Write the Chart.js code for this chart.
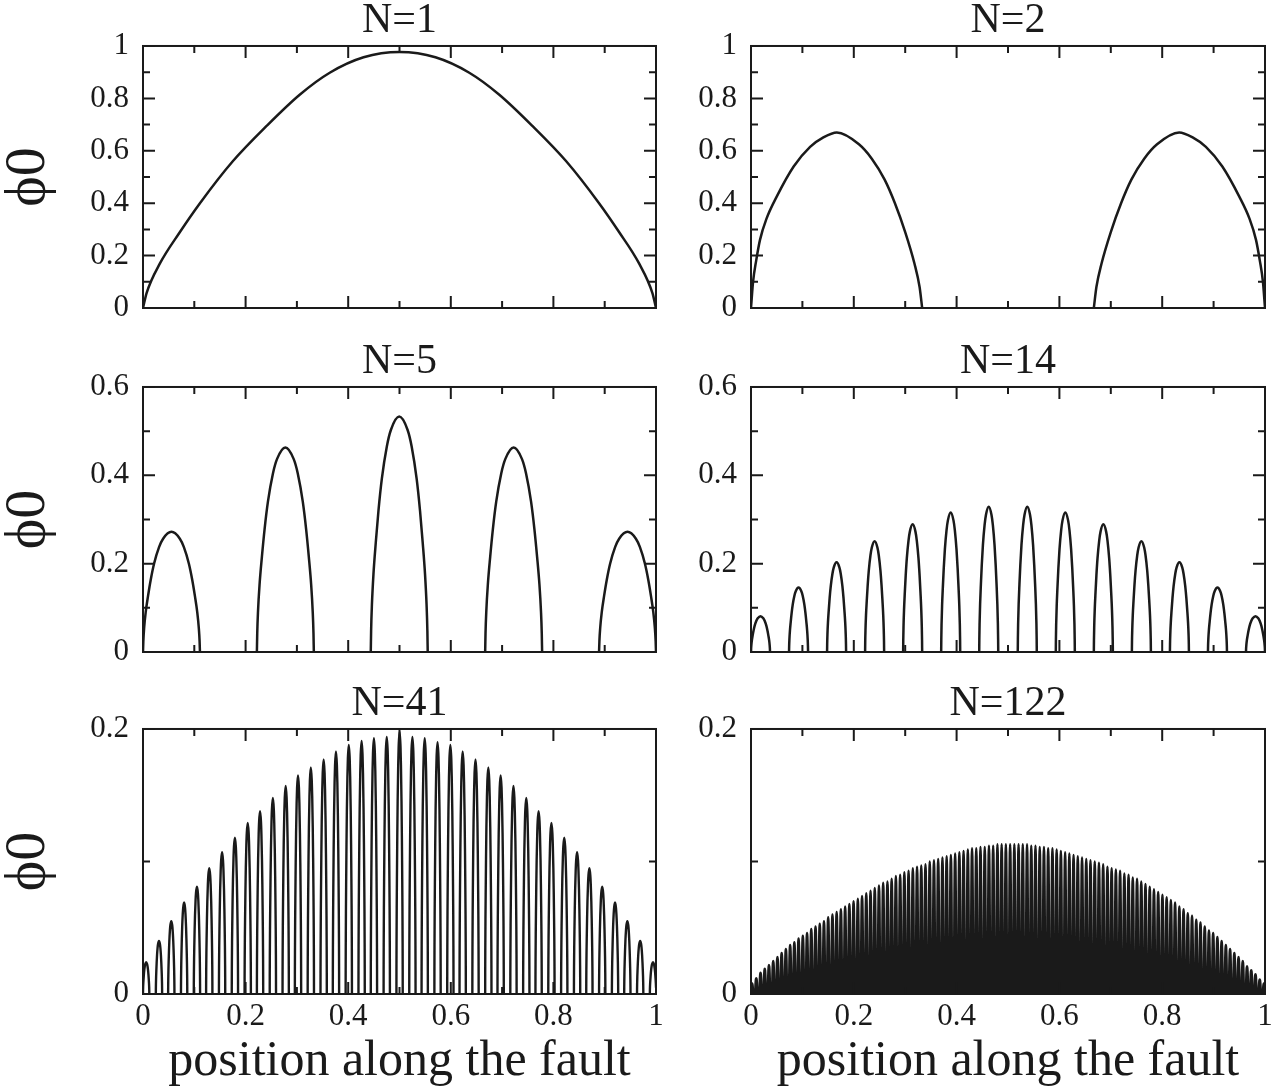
<!DOCTYPE html>
<html>
<head>
<meta charset="utf-8">
<script src="https://cdn.jsdelivr.net/npm/chart.js@4.4.1/dist/chart.umd.min.js"></script>
<style>
  html, body { margin: 0; padding: 0; background: #fff; overflow: hidden; }
  body { width: 1284px; height: 1088px; position: relative; }
</style>
</head>
<body>
<script>
// ---- axis ticks and labels ----
const X_MAJOR = [0, 0.2, 0.4, 0.6, 0.8, 1];
const X_LABELS = ["0", "0.2", "0.4", "0.6", "0.8", "1"];
const X_MINOR = [0.1, 0.3, 0.5, 0.7, 0.9];
const Y_MAJOR_TOP = [0, 0.2, 0.4, 0.6, 0.8, 1];
const Y_LABELS_TOP = ["0", "0.2", "0.4", "0.6", "0.8", "1"];
const Y_MINOR_TOP = [0.1, 0.3, 0.5, 0.7, 0.9];
const Y_MAJOR_MID = [0, 0.2, 0.4, 0.6];
const Y_LABELS_MID = ["0", "0.2", "0.4", "0.6"];
const Y_MINOR_MID = [0.1, 0.3, 0.5];
const Y_MAJOR_LOW = [0, 0.2];
const Y_LABELS_LOW = ["0", "0.2"];
const Y_MINOR_LOW = [0.1];
const X_TITLE = "position along the fault";
const Y_TITLE = "ϕ0";

// ---- N=1 and N=2 curves, read point by point ----
const N1_X = [0, 0.007, 0.033, 0.072, 0.111, 0.175, 0.241, 0.306, 0.364, 0.43, 0.5,
  0.57, 0.636, 0.694, 0.759, 0.825, 0.889, 0.928, 0.967, 0.993, 1];
const N1_Y = [0, 0.057, 0.17, 0.29, 0.40, 0.56, 0.695, 0.815, 0.898, 0.957, 0.977,
  0.957, 0.898, 0.815, 0.695, 0.56, 0.40, 0.29, 0.17, 0.057, 0];

const N2_X = [0, 0.004, 0.01, 0.0175, 0.03, 0.05, 0.083, 0.115, 0.14, 0.167, 0.21, 0.235, 0.26, 0.28, 0.30, 0.318, 0.328, 0.333,
  0.5,
  0.667, 0.672, 0.682, 0.70, 0.72, 0.74, 0.765, 0.79, 0.833, 0.86, 0.885, 0.917, 0.95, 0.97, 0.9825, 0.99, 0.996, 1];
const N2_Y = [0, 0.1, 0.18, 0.26, 0.34, 0.425, 0.54, 0.615, 0.65, 0.67, 0.625, 0.57, 0.49, 0.40, 0.29, 0.17, 0.08, 0,
  null,
  0, 0.08, 0.17, 0.29, 0.40, 0.49, 0.57, 0.625, 0.67, 0.65, 0.615, 0.54, 0.425, 0.34, 0.26, 0.18, 0.1, 0];

const ARCH_U = [0, 0.006, 0.02, 0.047, 0.088, 0.135, 0.194, 0.282, 0.353, 0.5,
  0.647, 0.718, 0.806, 0.865, 0.912, 0.953, 0.98, 0.994, 1];
const ARCH_V = [0, 0.09, 0.2, 0.33, 0.465, 0.6, 0.735, 0.873, 0.943, 1,
  0.943, 0.873, 0.735, 0.6, 0.465, 0.33, 0.2, 0.09, 0];

// ---- segmented panels: arch start, arch width, arch peak ----
const N5_START = [0, 0.222, 0.444, 0.667, 0.889];
const N5_WIDTH = 0.111;
const N5_PEAK = [0.272, 0.463, 0.533, 0.463, 0.272];

const N14_START = [0, 0.074, 0.148, 0.222, 0.296, 0.370, 0.444, 0.519, 0.593, 0.667, 0.741, 0.815, 0.889, 0.963];
const N14_WIDTH = 0.037;
const N14_PEAK = [0.081, 0.146, 0.203, 0.251, 0.289, 0.316, 0.329, 0.329, 0.316, 0.289, 0.251, 0.203, 0.146, 0.081];

const N41_START = [0, 0.025, 0.049, 0.074, 0.099, 0.123, 0.148, 0.173, 0.198, 0.222,
  0.247, 0.272, 0.296, 0.321, 0.346, 0.370, 0.395, 0.420, 0.444, 0.469,
  0.494, 0.519, 0.543, 0.568, 0.593, 0.617, 0.642, 0.667, 0.691, 0.716,
  0.741, 0.765, 0.790, 0.815, 0.840, 0.864, 0.889, 0.914, 0.938, 0.963, 0.988];
const N41_WIDTH = 0.0123;
const N41_PEAK = [0.024, 0.040, 0.055, 0.069, 0.081, 0.095, 0.107, 0.118, 0.129, 0.138,
  0.148, 0.157, 0.165, 0.171, 0.177, 0.183, 0.188, 0.191, 0.193, 0.194,
  0.198, 0.194, 0.193, 0.190, 0.188, 0.183, 0.177, 0.171, 0.165, 0.157,
  0.148, 0.138, 0.129, 0.118, 0.107, 0.095, 0.081, 0.069, 0.055, 0.040, 0.024];

const N122_START = [0, 0.0082, 0.0165, 0.0247, 0.0329, 0.0412, 0.0494, 0.0576, 0.0658, 0.0741,
  0.0823, 0.0905, 0.0988, 0.1070, 0.1152, 0.1235, 0.1317, 0.1399, 0.1481, 0.1564,
  0.1646, 0.1728, 0.1811, 0.1893, 0.1975, 0.2058, 0.2140, 0.2222, 0.2305, 0.2387,
  0.2469, 0.2551, 0.2634, 0.2716, 0.2798, 0.2881, 0.2963, 0.3045, 0.3128, 0.3210,
  0.3292, 0.3374, 0.3457, 0.3539, 0.3621, 0.3704, 0.3786, 0.3868, 0.3951, 0.4033,
  0.4115, 0.4198, 0.4280, 0.4362, 0.4444, 0.4527, 0.4609, 0.4691, 0.4774, 0.4856,
  0.4938, 0.5021, 0.5103, 0.5185, 0.5267, 0.5350, 0.5432, 0.5514, 0.5597, 0.5679,
  0.5761, 0.5844, 0.5926, 0.6008, 0.6091, 0.6173, 0.6255, 0.6337, 0.6420, 0.6502,
  0.6584, 0.6667, 0.6749, 0.6831, 0.6914, 0.6996, 0.7078, 0.7160, 0.7243, 0.7325,
  0.7407, 0.7490, 0.7572, 0.7654, 0.7737, 0.7819, 0.7901, 0.7984, 0.8066, 0.8148,
  0.8230, 0.8313, 0.8395, 0.8477, 0.8560, 0.8642, 0.8724, 0.8807, 0.8889, 0.8971,
  0.9053, 0.9136, 0.9218, 0.9300, 0.9383, 0.9465, 0.9547, 0.9630, 0.9712, 0.9794,
  0.9877, 0.9959];
const N122_WIDTH = 0.0041;
const N122_PEAK = [0.008, 0.012, 0.016, 0.019, 0.022, 0.025, 0.028, 0.031, 0.034, 0.037,
  0.039, 0.042, 0.044, 0.046, 0.049, 0.051, 0.053, 0.055, 0.058, 0.060,
  0.062, 0.064, 0.066, 0.068, 0.070, 0.072, 0.074, 0.076, 0.078, 0.080,
  0.082, 0.084, 0.085, 0.087, 0.089, 0.090, 0.092, 0.093, 0.095, 0.096,
  0.097, 0.098, 0.100, 0.101, 0.102, 0.103, 0.104, 0.105, 0.106, 0.107,
  0.108, 0.109, 0.110, 0.110, 0.111, 0.111, 0.112, 0.112, 0.113, 0.113,
  0.113, 0.113, 0.113, 0.113, 0.113, 0.113, 0.112, 0.112, 0.111, 0.111,
  0.110, 0.110, 0.109, 0.108, 0.107, 0.106, 0.105, 0.104, 0.103, 0.102,
  0.101, 0.100, 0.099, 0.098, 0.096, 0.095, 0.094, 0.093, 0.091, 0.090,
  0.088, 0.087, 0.085, 0.083, 0.081, 0.079, 0.077, 0.075, 0.073, 0.071,
  0.069, 0.066, 0.064, 0.061, 0.059, 0.056, 0.054, 0.051, 0.048, 0.046,
  0.043, 0.040, 0.037, 0.034, 0.031, 0.028, 0.025, 0.021, 0.018, 0.015,
  0.011, 0.008];

const INK = "#1a1a1a";
const SERIF = "'Liberation Serif', 'Times New Roman', serif";
Chart.defaults.font.family = SERIF;
Chart.defaults.color = INK;

function pairPoints(xs, ys) {
  return xs.map((x, i) => ({ x, y: ys[i] }));
}

// one arch per start, split by a gap point so each arch is its own curve
function archPoints(starts, width, peaks) {
  const pts = [];
  starts.forEach((s, i) => {
    ARCH_U.forEach((u, j) => pts.push({ x: s + u * width, y: ARCH_V[j] * peaks[i] }));
    pts.push({ x: s + width, y: null });
  });
  return pts;
}

// box frame with inward ticks on all four sides
const framePlugin = {
  id: "frame",
  afterDatasetsDraw(chart, args, opts) {
    const { ctx, chartArea: a, scales: { x, y } } = chart;
    ctx.save();
    ctx.strokeStyle = INK;
    ctx.lineWidth = 2;
    ctx.strokeRect(a.left, a.top, a.right - a.left, a.bottom - a.top);
    ctx.beginPath();
    const xt = (vals, len) => vals.forEach((v) => {
      const px = x.getPixelForValue(v);
      ctx.moveTo(px, a.bottom); ctx.lineTo(px, a.bottom - len);
      ctx.moveTo(px, a.top); ctx.lineTo(px, a.top + len);
    });
    const yt = (vals, len) => vals.forEach((v) => {
      const py = y.getPixelForValue(v);
      ctx.moveTo(a.left, py); ctx.lineTo(a.left + len, py);
      ctx.moveTo(a.right, py); ctx.lineTo(a.right - len, py);
    });
    xt(X_MAJOR, 12);
    xt(X_MINOR, 7);
    yt(opts.yMajor, 12);
    yt(opts.yMinor, 7);
    ctx.stroke();
    ctx.restore();
  },
};

const ROWS = [{ top: 46, bottom: 308 }, { top: 387, bottom: 652 }, { top: 729, bottom: 994 }];
const COLS = [
  { left: 0, width: 680, yW: 143, padR: 24 },
  { left: 672, width: 612, yW: 79, padR: 19 },
];
const TITLE_H = 50;

function makePanel(p) {
  const row = ROWS[p.row];
  const col = COLS[p.col];
  const bottomRow = p.row === 2;
  const xH = bottomRow ? 93 : 20;
  const h = TITLE_H + (row.bottom - row.top) + xH;
  const canvas = document.createElement("canvas");
  canvas.width = col.width;
  canvas.height = h;
  canvas.style.cssText = `position:absolute;left:${col.left}px;top:${row.top - TITLE_H}px;width:${col.width}px;height:${h}px`;
  document.body.appendChild(canvas);

  return new Chart(canvas, {
    type: "line",
    data: {
      datasets: [{
        data: p.points,
        borderColor: INK,
        borderWidth: p.lw,
        pointRadius: 0,
        fill: false,
        cubicInterpolationMode: "monotone",
      }],
    },
    options: {
      responsive: false,
      animation: false,
      devicePixelRatio: 1,
      layout: { padding: { left: 0, right: col.padR, top: 0, bottom: 0 } },
      plugins: {
        legend: { display: false },
        tooltip: { enabled: false },
        title: {
          display: true,
          fullSize: false,
          text: p.title,
          color: INK,
          font: { family: SERIF, size: 42, weight: "normal", lineHeight: 1.19 },
          padding: 0,
        },
        frame: { yMajor: p.yMajor, yMinor: p.yMinor },
      },
      scales: {
        x: {
          type: "linear",
          min: 0,
          max: 1,
          grid: { display: false, drawTicks: false },
          border: { display: false },
          afterBuildTicks: (s) => { s.ticks = X_MAJOR.map((v) => ({ value: v })); },
          ticks: {
            display: bottomRow,
            autoSkip: false,
            maxRotation: 0,
            padding: 4,
            color: INK,
            font: { family: SERIF, size: 31 },
            callback: (v, i) => X_LABELS[i],
          },
          title: {
            display: bottomRow,
            text: X_TITLE,
            color: INK,
            font: { family: SERIF, size: 50, lineHeight: 1 },
            padding: 0,
          },
          afterFit: (s) => { s.height = xH; s.paddingLeft = 0; s.paddingRight = 0; },
        },
        y: {
          type: "linear",
          min: 0,
          max: p.ymax,
          grid: { display: false, drawTicks: false },
          border: { display: false },
          afterBuildTicks: (s) => { s.ticks = p.yMajor.map((v) => ({ value: v })); },
          ticks: {
            padding: 14,
            color: INK,
            font: { family: SERIF, size: 31 },
            callback: (v, i) => p.yLabels[i],
          },
          title: {
            display: p.col === 0,
            text: Y_TITLE,
            color: INK,
            font: { family: SERIF, size: 58, lineHeight: 1 },
            padding: 0,
          },
          afterFit: (s) => { s.width = col.yW; s.paddingTop = 0; s.paddingBottom = 0; },
        },
      },
    },
    plugins: [framePlugin],
  });
}

const PANELS = [
  { title: "N=1", row: 0, col: 0, ymax: 1, yMajor: Y_MAJOR_TOP, yLabels: Y_LABELS_TOP, yMinor: Y_MINOR_TOP, lw: 2.5, points: pairPoints(N1_X, N1_Y) },
  { title: "N=2", row: 0, col: 1, ymax: 1, yMajor: Y_MAJOR_TOP, yLabels: Y_LABELS_TOP, yMinor: Y_MINOR_TOP, lw: 2.5, points: pairPoints(N2_X, N2_Y) },
  { title: "N=5", row: 1, col: 0, ymax: 0.6, yMajor: Y_MAJOR_MID, yLabels: Y_LABELS_MID, yMinor: Y_MINOR_MID, lw: 2.5, points: archPoints(N5_START, N5_WIDTH, N5_PEAK) },
  { title: "N=14", row: 1, col: 1, ymax: 0.6, yMajor: Y_MAJOR_MID, yLabels: Y_LABELS_MID, yMinor: Y_MINOR_MID, lw: 2.5, points: archPoints(N14_START, N14_WIDTH, N14_PEAK) },
  { title: "N=41", row: 2, col: 0, ymax: 0.2, yMajor: Y_MAJOR_LOW, yLabels: Y_LABELS_LOW, yMinor: Y_MINOR_LOW, lw: 2.4, points: archPoints(N41_START, N41_WIDTH, N41_PEAK) },
  { title: "N=122", row: 2, col: 1, ymax: 0.2, yMajor: Y_MAJOR_LOW, yLabels: Y_LABELS_LOW, yMinor: Y_MINOR_LOW, lw: 2.4, points: archPoints(N122_START, N122_WIDTH, N122_PEAK) },
];

PANELS.forEach(makePanel);
</script>
</body>
</html>
